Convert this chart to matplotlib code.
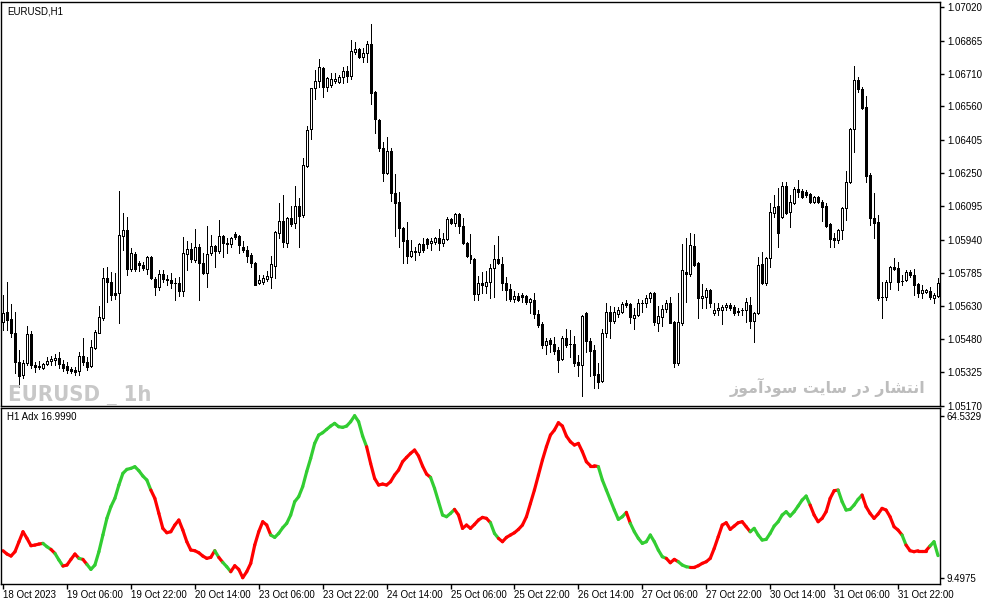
import numpy as np
import pandas as pd
import matplotlib
matplotlib.use("Agg")
import matplotlib.pyplot as plt
from matplotlib.collections import LineCollection
from matplotlib import font_manager

# EURUSD H1 candles (bar 0 = 18 Oct 2023 14:00)
opens = [
    1.05559, 1.05605, 1.05573, 1.05508, 1.05373, 1.05313, 1.05369, 1.05503, 1.05359, 1.05355,
    1.05345, 1.05364, 1.05378, 1.05383, 1.05392, 1.05364, 1.05355, 1.05341, 1.05336, 1.05332,
    1.05401, 1.05373, 1.05355, 1.05438, 1.05508, 1.05577, 1.05763, 1.05745, 1.05693, 1.05693,
    1.05958, 1.05986, 1.05805, 1.05874, 1.05833, 1.05823, 1.05805, 1.05861, 1.05758, 1.05721,
    1.05782, 1.05758, 1.05754, 1.05740, 1.05740, 1.05703, 1.05874, 1.05898, 1.05847, 1.05907,
    1.05833, 1.05786, 1.05879, 1.05912, 1.05888, 1.05958, 1.05925, 1.05921, 1.05967, 1.05958,
    1.05907, 1.05893, 1.05870, 1.05833, 1.05740, 1.05745, 1.05758, 1.05768, 1.05819, 1.05972,
    1.06028, 1.05925, 1.06041, 1.06018, 1.06097, 1.06055, 1.06283, 1.06454, 1.06645, 1.06677,
    1.06737, 1.06649, 1.06659, 1.06677, 1.06673, 1.06696, 1.06724, 1.06700, 1.06812, 1.06826,
    1.06789, 1.06807, 1.06849, 1.06626, 1.06496, 1.06366, 1.06250, 1.06352, 1.06157, 1.06116,
    1.05995, 1.05939, 1.05865, 1.05884, 1.05884, 1.05921, 1.05944, 1.05925, 1.05930, 1.05949,
    1.05925, 1.05944, 1.06037, 1.06018, 1.06060, 1.06004, 1.05925, 1.05870, 1.05851, 1.05689,
    1.05740, 1.05726, 1.05745, 1.05809, 1.05851, 1.05828, 1.05740, 1.05712, 1.05666, 1.05680,
    1.05684, 1.05680, 1.05652, 1.05661, 1.05596, 1.05550, 1.05452, 1.05475, 1.05457, 1.05429,
    1.05387, 1.05485, 1.05457, 1.05457, 1.05373, 1.05359, 1.05601, 1.05471, 1.05429, 1.05318,
    1.05285, 1.05508, 1.05605, 1.05564, 1.05596, 1.05605, 1.05647, 1.05642, 1.05577, 1.05591,
    1.05647, 1.05647, 1.05670, 1.05693, 1.05554, 1.05582, 1.05619, 1.05647, 1.05559, 1.05369,
    1.05554, 1.05791, 1.05782, 1.05912, 1.05833, 1.05670, 1.05675, 1.05707, 1.05601, 1.05615,
    1.05615, 1.05629, 1.05638, 1.05629, 1.05610, 1.05615, 1.05615, 1.05638, 1.05564, 1.05601,
    1.05828, 1.05740, 1.05856, 1.06065, 1.06097, 1.06046, 1.06190, 1.06069, 1.06111, 1.06176,
    1.06167, 1.06162, 1.06153, 1.06116, 1.06139, 1.06116, 1.06097, 1.06014, 1.05949, 1.05939,
    1.05986, 1.06088, 1.06209, 1.06454, 1.06682, 1.06640, 1.06557, 1.06241, 1.06041, 1.06023,
    1.05675, 1.05675, 1.05745, 1.05814, 1.05809, 1.05749, 1.05754, 1.05791, 1.05777, 1.05735,
    1.05693, 1.05698, 1.05703, 1.05670, 1.05680,
]
highs = [
    1.05684, 1.05745, 1.05642, 1.05605, 1.05429, 1.05383, 1.05540, 1.05517, 1.05373, 1.05378,
    1.05369, 1.05397, 1.05401, 1.05410, 1.05420, 1.05383, 1.05373, 1.05350, 1.05350, 1.05420,
    1.05485, 1.05397, 1.05475, 1.05522, 1.05633, 1.05809, 1.05814, 1.05791, 1.05786, 1.06167,
    1.06065, 1.06046, 1.05902, 1.05884, 1.05842, 1.05837, 1.05865, 1.05865, 1.05768, 1.05800,
    1.05800, 1.05777, 1.05786, 1.05763, 1.05768, 1.05953, 1.05935, 1.05925, 1.05990, 1.05921,
    1.05879, 1.06004, 1.05963, 1.05916, 1.06032, 1.05963, 1.05949, 1.05953, 1.05977, 1.05963,
    1.05935, 1.05912, 1.05879, 1.05836, 1.05777, 1.05777, 1.05796, 1.05865, 1.05981, 1.06111,
    1.06148, 1.06046, 1.06097, 1.06190, 1.06134, 1.06320, 1.06468, 1.06645, 1.06728, 1.06779,
    1.06742, 1.06696, 1.06714, 1.06714, 1.06705, 1.06742, 1.06747, 1.06867, 1.06858, 1.06830,
    1.06830, 1.06863, 1.06942, 1.06630, 1.06500, 1.06394, 1.06417, 1.06366, 1.06246, 1.06162,
    1.05999, 1.06023, 1.05939, 1.05907, 1.05925, 1.05949, 1.05949, 1.05949, 1.05953, 1.05990,
    1.05972, 1.06046, 1.06041, 1.06065, 1.06065, 1.06041, 1.05928, 1.05967, 1.05854, 1.05772,
    1.05791, 1.05796, 1.05828, 1.05916, 1.05958, 1.05861, 1.05768, 1.05735, 1.05703, 1.05693,
    1.05693, 1.05683, 1.05670, 1.05693, 1.05615, 1.05559, 1.05485, 1.05485, 1.05489, 1.05443,
    1.05494, 1.05526, 1.05522, 1.05494, 1.05406, 1.05591, 1.05605, 1.05485, 1.05452, 1.05369,
    1.05526, 1.05647, 1.05633, 1.05629, 1.05629, 1.05652, 1.05661, 1.05647, 1.05624, 1.05666,
    1.05661, 1.05684, 1.05698, 1.05696, 1.05633, 1.05638, 1.05661, 1.05675, 1.05564, 1.05693,
    1.05921, 1.05949, 1.05972, 1.05967, 1.05836, 1.05735, 1.05717, 1.05710, 1.05647, 1.05647,
    1.05638, 1.05647, 1.05647, 1.05638, 1.05624, 1.05624, 1.05670, 1.05675, 1.05605, 1.05861,
    1.05884, 1.05861, 1.06111, 1.06148, 1.06181, 1.06209, 1.06209, 1.06148, 1.06185, 1.06218,
    1.06176, 1.06171, 1.06157, 1.06144, 1.06144, 1.06125, 1.06111, 1.06017, 1.05972, 1.05990,
    1.06093, 1.06260, 1.06459, 1.06747, 1.06696, 1.06649, 1.06608, 1.06250, 1.06157, 1.06055,
    1.05745, 1.05754, 1.05819, 1.05856, 1.05837, 1.05777, 1.05800, 1.05800, 1.05805, 1.05740,
    1.05731, 1.05712, 1.05721, 1.05693, 1.05763,
]
lows = [
    1.05522, 1.05522, 1.05489, 1.05322, 1.05257, 1.05299, 1.05359, 1.05345, 1.05327, 1.05341,
    1.05341, 1.05359, 1.05359, 1.05359, 1.05345, 1.05332, 1.05322, 1.05322, 1.05313, 1.05313,
    1.05359, 1.05336, 1.05350, 1.05434, 1.05508, 1.05568, 1.05652, 1.05661, 1.05666, 1.05554,
    1.05893, 1.05777, 1.05796, 1.05796, 1.05796, 1.05800, 1.05782, 1.05758, 1.05684, 1.05707,
    1.05745, 1.05731, 1.05717, 1.05661, 1.05680, 1.05680, 1.05800, 1.05837, 1.05837, 1.05661,
    1.05782, 1.05721, 1.05870, 1.05814, 1.05879, 1.05861, 1.05879, 1.05907, 1.05944, 1.05879,
    1.05884, 1.05837, 1.05814, 1.05728, 1.05735, 1.05735, 1.05749, 1.05717, 1.05763, 1.05949,
    1.05907, 1.05907, 1.06004, 1.05995, 1.05907, 1.06046, 1.06278, 1.06408, 1.06594, 1.06649,
    1.06603, 1.06631, 1.06649, 1.06668, 1.06668, 1.06668, 1.06673, 1.06686, 1.06802, 1.06784,
    1.06765, 1.06765, 1.06570, 1.06436, 1.06352, 1.06213, 1.06246, 1.06120, 1.05958, 1.05907,
    1.05833, 1.05833, 1.05861, 1.05847, 1.05870, 1.05884, 1.05902, 1.05893, 1.05921, 1.05893,
    1.05912, 1.05939, 1.06014, 1.06004, 1.05972, 1.05922, 1.05861, 1.05833, 1.05661, 1.05661,
    1.05693, 1.05693, 1.05670, 1.05675, 1.05828, 1.05707, 1.05661, 1.05656, 1.05652, 1.05656,
    1.05652, 1.05642, 1.05601, 1.05577, 1.05536, 1.05438, 1.05410, 1.05420, 1.05410, 1.05327,
    1.05383, 1.05443, 1.05397, 1.05355, 1.05308, 1.05216, 1.05420, 1.05308, 1.05253, 1.05253,
    1.05281, 1.05489, 1.05485, 1.05554, 1.05582, 1.05601, 1.05629, 1.05554, 1.05526, 1.05587,
    1.05605, 1.05629, 1.05652, 1.05545, 1.05517, 1.05540, 1.05605, 1.05551, 1.05350, 1.05359,
    1.05545, 1.05652, 1.05772, 1.05819, 1.05577, 1.05624, 1.05624, 1.05629, 1.05591, 1.05591,
    1.05550, 1.05615, 1.05615, 1.05591, 1.05591, 1.05591, 1.05559, 1.05531, 1.05466, 1.05596,
    1.05735, 1.05731, 1.05814, 1.06046, 1.05907, 1.06043, 1.06060, 1.06000, 1.06106, 1.06139,
    1.06134, 1.06139, 1.06111, 1.06111, 1.06111, 1.06028, 1.06000, 1.05907, 1.05907, 1.05925,
    1.05944, 1.06032, 1.06204, 1.06348, 1.06626, 1.06547, 1.06209, 1.06009, 1.05949, 1.05661,
    1.05577, 1.05661, 1.05712, 1.05800, 1.05707, 1.05731, 1.05749, 1.05768, 1.05684, 1.05675,
    1.05670, 1.05693, 1.05666, 1.05647, 1.05675,
]
closes = [
    1.05601, 1.05568, 1.05508, 1.05373, 1.05308, 1.05369, 1.05503, 1.05359, 1.05350, 1.05350,
    1.05364, 1.05378, 1.05387, 1.05392, 1.05364, 1.05345, 1.05336, 1.05332, 1.05327, 1.05401,
    1.05373, 1.05350, 1.05443, 1.05513, 1.05582, 1.05763, 1.05745, 1.05684, 1.05684, 1.05963,
    1.05986, 1.05805, 1.05879, 1.05805, 1.05823, 1.05809, 1.05861, 1.05763, 1.05721, 1.05782,
    1.05758, 1.05754, 1.05740, 1.05738, 1.05703, 1.05879, 1.05898, 1.05851, 1.05907, 1.05833,
    1.05786, 1.05874, 1.05912, 1.05888, 1.05958, 1.05925, 1.05921, 1.05949, 1.05953, 1.05916,
    1.05893, 1.05865, 1.05833, 1.05731, 1.05754, 1.05763, 1.05772, 1.05828, 1.05977, 1.06028,
    1.05930, 1.06041, 1.06014, 1.06097, 1.06051, 1.06287, 1.06450, 1.06645, 1.06677, 1.06742,
    1.06649, 1.06691, 1.06686, 1.06686, 1.06696, 1.06724, 1.06700, 1.06816, 1.06826, 1.06789,
    1.06807, 1.06849, 1.06621, 1.06501, 1.06366, 1.06250, 1.06352, 1.06157, 1.06111, 1.05995,
    1.05935, 1.05865, 1.05888, 1.05888, 1.05921, 1.05893, 1.05921, 1.05935, 1.05949, 1.05925,
    1.05944, 1.06037, 1.06018, 1.06060, 1.06004, 1.05925, 1.05865, 1.05851, 1.05689, 1.05740,
    1.05731, 1.05745, 1.05809, 1.05851, 1.05833, 1.05740, 1.05707, 1.05666, 1.05680, 1.05661,
    1.05675, 1.05652, 1.05666, 1.05596, 1.05545, 1.05452, 1.05471, 1.05457, 1.05424, 1.05383,
    1.05485, 1.05452, 1.05455, 1.05369, 1.05359, 1.05587, 1.05471, 1.05424, 1.05313, 1.05281,
    1.05508, 1.05605, 1.05564, 1.05605, 1.05615, 1.05642, 1.05638, 1.05582, 1.05591, 1.05647,
    1.05645, 1.05670, 1.05693, 1.05559, 1.05587, 1.05619, 1.05647, 1.05554, 1.05369, 1.05559,
    1.05800, 1.05782, 1.05916, 1.05823, 1.05670, 1.05680, 1.05707, 1.05647, 1.05615, 1.05624,
    1.05629, 1.05638, 1.05624, 1.05601, 1.05605, 1.05613, 1.05652, 1.05564, 1.05601, 1.05823,
    1.05740, 1.05856, 1.06069, 1.06093, 1.05972, 1.06190, 1.06065, 1.06116, 1.06176, 1.06162,
    1.06139, 1.06148, 1.06116, 1.06139, 1.06116, 1.06093, 1.06004, 1.05944, 1.05939, 1.05986,
    1.06088, 1.06209, 1.06454, 1.06682, 1.06640, 1.06552, 1.06236, 1.06041, 1.06018, 1.05670,
    1.05673, 1.05745, 1.05814, 1.05805, 1.05745, 1.05747, 1.05791, 1.05777, 1.05731, 1.05693,
    1.05707, 1.05707, 1.05675, 1.05684, 1.05740,
]

# ADX(14) line, one value per bar
adx = [
    18.67, 17.54, 16.86, 18.33, 21.73, 25.12, 22.86, 20.37, 20.59, 20.93,
    21.16, 20.03, 19.12, 17.76, 15.50, 13.46, 13.80, 15.72, 17.54, 16.07,
    15.72, 14.03, 12.33, 13.80, 18.33, 24.00, 29.66, 33.62, 36.45, 40.98,
    44.94, 46.30, 46.64, 47.21, 45.85, 44.04, 42.68, 39.28, 36.45, 31.36,
    26.26, 24.78, 25.12, 27.39, 29.09, 25.69, 21.73, 18.90, 18.67, 17.99,
    16.86, 16.07, 16.41, 18.67, 16.41, 14.71, 13.23, 11.54, 13.57, 12.33,
    9.50, 11.54, 14.37, 20.59, 25.12, 28.52, 27.39, 24.00, 23.20, 24.56,
    26.48, 27.96, 30.79, 35.32, 37.02, 40.41, 45.51, 50.04, 55.13, 57.96,
    58.75, 59.89, 61.02, 61.93, 60.80, 60.57, 61.02, 62.49, 64.53, 62.49,
    57.62, 54.00, 48.34, 43.24, 40.98, 41.32, 40.98, 42.11, 44.37, 46.07,
    48.90, 50.38, 51.74, 52.87, 50.83, 47.43, 44.72, 43.58, 39.85, 35.32,
    30.79, 30.22, 31.35, 32.71, 30.79, 26.26, 27.39, 26.26, 27.60, 29.10,
    29.99, 29.66, 28.18, 24.56, 22.86, 21.73, 23.20, 24.00, 24.78, 25.92,
    27.39, 30.22, 34.75, 39.28, 44.37, 49.47, 54.00, 57.96, 59.66, 62.15,
    61.02, 57.62, 55.70, 54.57, 55.13, 52.30, 48.90, 47.55, 47.55, 47.21,
    42.68, 39.28, 35.88, 32.49, 29.32, 30.22, 31.69, 27.96, 25.12, 22.86,
    21.16, 21.73, 24.00, 21.73, 18.90, 16.63, 16.07, 14.59, 15.72, 14.93,
    13.80, 13.23, 13.00, 13.00, 13.57, 14.37, 14.93, 16.07, 19.46, 23.42,
    27.39, 28.18, 25.92, 27.05, 28.18, 28.52, 26.82, 25.12, 26.26, 24.00,
    22.29, 22.52, 24.56, 27.05, 28.52, 30.79, 31.92, 30.45, 31.92, 33.85,
    35.88, 37.24, 34.18, 30.79, 28.52, 29.66, 31.92, 36.45, 39.05, 39.28,
    35.32, 32.49, 32.71, 34.18, 36.11, 37.58, 33.62, 31.35, 29.66, 31.13,
    33.05, 32.49, 30.22, 26.82, 25.69, 24.00, 20.59, 18.67, 18.33, 18.67,
    18.67, 18.67, 20.26, 21.73, 17.00,
]
# colour of the ADX line: runs of bars (r = falling trend colour, g = rising)
adx_run_colors = ['r', 'g', 'r', 'g', 'r', 'g', 'r', 'g', 'r', 'g', 'r', 'g', 'r', 'g',
                  'r', 'g', 'r', 'g', 'r', 'g', 'r', 'g', 'r', 'g', 'r', 'g', 'r', 'g',
                  'r', 'g', 'r', 'g']
adx_run_lengths = [11, 2, 1, 2, 4, 1, 1, 16, 16, 1, 1, 2, 10, 24, 16, 6, 9, 2, 25, 7,
                   1, 9, 3, 3, 15, 15, 7, 6, 10, 1, 6, 2]

price_ticks = [1.07020, 1.06865, 1.06710, 1.06560, 1.06405, 1.06250, 1.06095,
               1.05940, 1.05785, 1.05630, 1.05480, 1.05325, 1.05170]
adx_ticks = [64.5329, 9.4975]
adx_last = "16.9990"
first_bar = "2023-10-18 14:00"
label_every = 16

# Persian watermark "انتشار در سایت سودآموز", written in presentation forms
# (matplotlib does no Arabic shaping), reversed for left-to-right drawing
persian_logical = ("\uFE8D\uFEE7\uFE98\uFEB8\uFE8E\uFEAD \uFEA9\uFEAD "
                   "\uFEB3\uFE8E\uFEF3\uFE96 \uFEB3\uFEEE\uFEA9\uFE81\uFEE3\uFEEE\uFEAF")
persian_text = persian_logical[::-1]

o = np.array(opens)
h = np.array(highs)
l = np.array(lows)
c = np.array(closes)
n = len(c)
x = np.arange(n)

times = pd.date_range(first_bar, periods=n * 2, freq="h")
times = times[times.dayofweek < 5][:n]

installed = {f.name for f in font_manager.fontManager.ttflist}
ui_font = "Liberation Sans" if "Liberation Sans" in installed else "DejaVu Sans"


def _is_bold(f):
    w = f.weight
    if isinstance(w, str):
        return "bold" in w.lower() or "heavy" in w.lower() or "black" in w.lower()
    return w >= 600


# narrow bold face for the EURUSD watermark, if there is one
narrow = [f for f in font_manager.fontManager.ttflist
          if ("condensed" in str(f.stretch) or "Narrow" in f.name
              or "Condensed" in f.name) and _is_bold(f) and f.style == "normal"]
if narrow:
    wm_prop = font_manager.FontProperties(fname=narrow[0].fname)
else:
    wm_prop = font_manager.FontProperties(family="DejaVu Sans", weight="bold")

W, H = 987, 605
fig = plt.figure(figsize=(W / 100, H / 100), dpi=100, facecolor="white")
ax1 = fig.add_axes([1 / W, 1 - 405.5 / H, 939 / W, 403.5 / H])
ax2 = fig.add_axes([1 / W, 1 - 583.5 / H, 939 / W, 175.2 / H])

# candles: 1px wicks, 3px bodies (white with black outline when up)
ax1.vlines(x, l, h, color="black", linewidth=0.72, zorder=1, antialiased=False)
up = c >= o
ax1.bar(x[up], (c - o)[up], bottom=o[up], width=0.5, facecolor="white",
        edgecolor="black", linewidth=0.72, zorder=2, antialiased=False)
ax1.bar(x[~up], (o - c)[~up], bottom=c[~up], width=0.5, facecolor="black",
        edgecolor="black", linewidth=0.72, zorder=2, antialiased=False)

ax1.set_xlim(-0.5, n - 0.5)
ax1.set_ylim(1.05172, 1.07044)
ax1.set_yticks(price_ticks)
ax1.set_yticklabels(["%.5f" % v for v in price_ticks])
ax1.set_xticks([])

# adx line with per-segment colour
flags = []
for col, ln in zip(adx_run_colors, adx_run_lengths):
    flags += [col] * ln
a = np.array(adx)
segs = [[(i - 1, a[i - 1]), (i, a[i])] for i in range(1, n)]
seg_cols = ["#ff0000" if flags[i] == "r" else "#32cd32" for i in range(1, n)]
lc = LineCollection(segs, colors=seg_cols, linewidths=2.3, capstyle="round")
ax2.add_collection(lc)
ax2.set_xlim(-0.5, n - 0.5)
ax2.set_ylim(7.53, 67.05)
ax2.set_yticks(adx_ticks)
ax2.set_yticklabels(["%.4f" % v for v in adx_ticks])

tick_pos = list(range(0, n, label_every))
tick_lab = []
for k, i in enumerate(tick_pos):
    t = times[i]
    if k == 0:
        tick_lab.append(t.strftime("%d %b %Y"))
    else:
        tick_lab.append(t.strftime("%d %b %H:%M"))
ax2.set_xticks(tick_pos)
ax2.set_xticklabels(tick_lab, ha="left")

for ax in (ax1, ax2):
    ax.set_facecolor("white")
    ax.yaxis.tick_right()
    for sp in ax.spines.values():
        sp.set_color("black")
        sp.set_linewidth(1.0)
    ax.tick_params(axis="y", direction="out", length=3, width=1, pad=2,
                   labelsize=7, colors="black")
    for lab in ax.get_yticklabels():
        lab.set_fontfamily(ui_font)
ax2.tick_params(axis="x", direction="out", length=3.5, width=1, pad=1.5,
                labelsize=7)
for lab in ax2.get_xticklabels():
    lab.set_fontfamily(ui_font)

fig.text(7 / W, 1 - 11 / H, "EURUSD,H1", fontsize=7, family=ui_font,
         va="center", ha="left")
fig.text(7 / W, 1 - 417 / H, "H1 Adx " + adx_last, fontsize=7, family=ui_font,
         va="center", ha="left")

# watermarks, sized to the width they take on the chart
wm = fig.text(8 / W, 1 - 401 / H, "EURUSD _ 1h", fontproperties=wm_prop,
              color="#c8c8c8", va="baseline", ha="left")
wm.set_fontsize(20)
fa = fig.text(925 / W, 1 - 387 / H, persian_text, family="DejaVu Sans",
              weight="bold", color="#bdbdbd", va="center", ha="right")
fa.set_fontsize(12)
fig.canvas.draw()
r = fig.canvas.get_renderer()
wm.set_fontsize(20 * 143 / wm.get_window_extent(r).width)
fa.set_fontsize(12 * 195 / fa.get_window_extent(r).width)

fig.savefig("out.png", dpi=100, facecolor="white")
